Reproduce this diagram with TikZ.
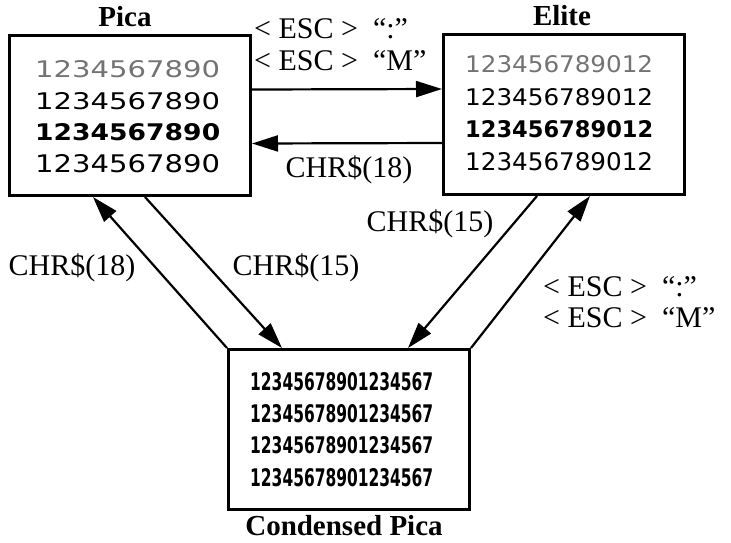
\documentclass[tikz,border=0pt]{standalone}
\usepackage{fontspec}
\setmainfont{Liberation Serif}
\newfontfamily\digfont{DejaVu Sans}
\usetikzlibrary{arrows.meta,calc}
\begin{document}
\begin{tikzpicture}[x=1pt,y=-1pt,
  box/.style={draw,line width=3pt,minimum width=241pt,minimum height=160pt,inner sep=0pt,anchor=north west},
  arr/.style={line width=2.2pt,-{Triangle[length=26pt,width=16pt]}},
  lab/.style={inner sep=0pt,font=\fontsize{30}{32}\selectfont},
  title/.style={inner sep=0pt,font=\fontsize{29}{31}\selectfont\bfseries},
  dig/.style={inner sep=0pt,anchor=west}]
\useasboundingbox (0,0) rectangle (731,542);
% boxes
\node[box] (pica) at (8,34) {};
\node[box] (elite) at (442,33) {};
\node[box] (cond) at (227,348) {};
% titles
\node[title] (tp) at (125,17) {Pica};
\node[title] (te) at (562,16) {Elite};
\node[title] (tc) at (344,526) {Condensed Pica};
% pica rows
\node[dig] (p1) at (35,69) {\resizebox{185pt}{17pt}{\color{black!55}\digfont 1234567890}};
\node[dig] (p2) at (35,101) {\resizebox{185pt}{17pt}{\digfont 1234567890}};
\node[dig] (p3) at (35,132) {\resizebox{185pt}{17pt}{\digfont\bfseries 1234567890}};
\node[dig] (p4) at (35,164) {\resizebox{185pt}{18pt}{\digfont 1234567890}};
% elite rows
\node[dig] (e1) at (465,64) {\resizebox{188pt}{17pt}{\color{black!55}\digfont 123456789012}};
\node[dig] (e2) at (465,97) {\resizebox{188pt}{17pt}{\digfont 123456789012}};
\node[dig] (e3) at (465,129) {\resizebox{188pt}{17pt}{\digfont\bfseries 123456789012}};
\node[dig] (e4) at (465,162) {\resizebox{188pt}{18pt}{\digfont 123456789012}};
% condensed rows
\node[dig] (c1) at (250,382) {\resizebox{183pt}{18pt}{\digfont\bfseries 12345678901234567}};
\node[dig] (c2) at (250,414) {\resizebox{183pt}{18pt}{\digfont\bfseries 12345678901234567}};
\node[dig] (c3) at (250,445) {\resizebox{183pt}{17pt}{\digfont\bfseries 12345678901234567}};
\node[dig] (c4) at (250,478) {\resizebox{183pt}{18pt}{\digfont\bfseries 12345678901234567}};
% horizontal arrows
\draw[arr] ($(pica.east)+(0,-26)$) -- ($(elite.west)+(0,-25.5)$);
\draw[arr] ($(elite.west)+(0,28.5)$) -- ($(pica.east)+(0,28)$);
% diagonal arrows
\draw[arr] (cond.north west) -- ($(pica.south west)+(85,0)$);
\draw[arr] ($(pica.south west)+(137,0)$) -- ($(cond.north west)+(55,0)$);
\draw[arr] ($(elite.south west)+(95,0)$) -- ($(cond.north west)+(181,0)$);
\draw[arr] (cond.north east) -- ($(elite.south west)+(148,0)$);
% labels
\node[lab,anchor=west] (l1) at (254,29) {< ESC >\hspace{0.5em}“:”};
\node[lab,anchor=west] (l2) at (254,61) {< ESC >\hspace{0.5em}“M”};
\node[lab] (l3) at (349,170) {CHR\$(18)};
\node[lab] (l4) at (72,268) {CHR\$(18)};
\node[lab] (l5) at (296,268) {CHR\$(15)};
\node[lab] (l6) at (430,224) {CHR\$(15)};
\node[lab,anchor=west] (l7) at (543,287) {< ESC >\hspace{0.5em}“:”};
\node[lab,anchor=west] (l8) at (543,318) {< ESC >\hspace{0.5em}“M”};
\end{tikzpicture}
\end{document}
